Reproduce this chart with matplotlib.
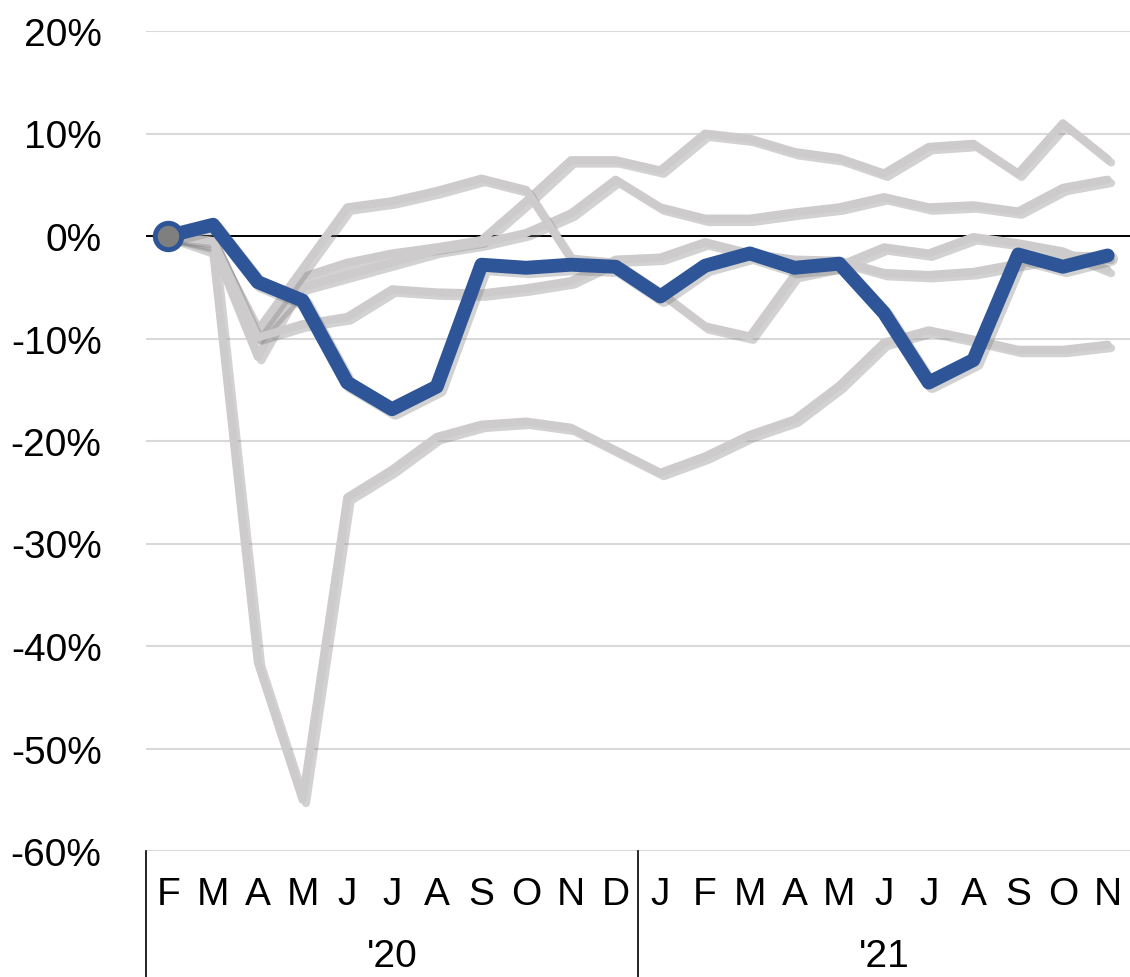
import matplotlib
matplotlib.use("Agg")
import matplotlib.pyplot as plt
import matplotlib.patheffects as pe

plt.rcParams['font.family'] = ['Liberation Sans', 'DejaVu Sans']

# months Feb 2020 .. Nov 2021
months = ['F', 'M', 'A', 'M', 'J', 'J', 'A', 'S', 'O', 'N', 'D',
          'J', 'F', 'M', 'A', 'M', 'J', 'J', 'A', 'S', 'O', 'N']
years = ["'20", "'21"]

# highlighted series (%)
blue = [0, 1.1, -4.5, -6.3, -14.3, -16.9, -14.7, -2.8, -3.1, -2.8, -3.0,
        -5.9, -2.9, -1.7, -3.1, -2.7, -7.5, -14.3, -12.1, -1.8, -3.0, -1.9]

# background series (%)
gray_dip = [0, -1.5, -41.6, -55.0, -25.5, -22.8, -19.6, -18.4, -18.1, -18.7, -20.9,
            -23.1, -21.5, -19.4, -17.9, -14.6, -10.4, -9.2, -10.1, -11.1, -11.1, -10.6]
gray_top = [0, -1.0, -11.8, -4.0, -2.6, -1.7, -1.1, -0.4, 3.4, 7.4, 7.4,
            6.4, 10.0, 9.5, 8.2, 7.6, 6.1, 8.7, 9.0, 6.1, 11.0, 7.5]
gray_second = [0, -0.5, -9.8, -5.0, -3.8, -2.6, -1.4, -0.7, 0.3, 2.2, 5.5,
               2.8, 1.7, 1.7, 2.3, 2.8, 3.8, 2.8, 3.0, 2.4, 4.7, 5.5]
gray_peak = [0, -0.8, -9.2, -3.2, 2.8, 3.4, 4.4, 5.6, 4.5, -2.2, -2.6,
             -5.5, -8.8, -9.8, -3.8, -2.9, -1.1, -1.7, -0.1, -0.7, -1.5, -3.3]
gray_flat = [0, -0.5, -9.9, -8.6, -7.9, -5.2, -5.5, -5.6, -5.1, -4.4, -2.3,
             -2.1, -0.6, -1.7, -2.3, -2.4, -3.6, -3.8, -3.5, -2.7, -1.9, -2.0]

grays = [gray_dip, gray_top, gray_second, gray_peak, gray_flat]
x = list(range(len(months)))

fig = plt.figure(figsize=(11.3, 9.78), dpi=100)
ax = fig.add_axes([146 / 1130, 1 - 852 / 978, 984 / 1130, 820 / 978])

shadow = [pe.SimpleLineShadow(offset=(2.5, -2.5), shadow_color='#808080', alpha=0.35),
          pe.Normal()]

for s in grays:
    ax.plot(x, s, color='#CDCBCB', lw=5.8, solid_joinstyle='round',
            solid_capstyle='round', path_effects=shadow, zorder=3)

ax.plot(x, blue, color='#2E5597', lw=10, solid_joinstyle='round',
        solid_capstyle='round', path_effects=shadow, zorder=4)
ax.plot(x[0], blue[0], 'o', ms=19, mfc='#7F7F7F', mec='#2E5597', mew=3.6, zorder=5)

ax.axhline(0, color='black', lw=1.4, zorder=2)

ax.set_xlim(-0.5, len(months) - 0.5)
ax.set_ylim(-60, 20)
ax.set_yticks(range(-60, 21, 10))
ax.set_yticklabels([f'{v}%' for v in range(-60, 21, 10)], fontsize=28)
ax.yaxis.grid(True, color='#D9D9D9', lw=1.5)
ax.set_axisbelow(True)
ax.tick_params(axis='y', length=0, pad=32)

ax.set_xticks(x)
ax.set_xticklabels(months, fontsize=28)
ax.tick_params(axis='x', length=0, pad=18)

for sp in ax.spines.values():
    sp.set_visible(False)

trans = ax.get_xaxis_transform()
bottom = -(978 - 852) / 820
for xv in [-0.5, 10.5]:
    ax.plot([xv, xv], [0, bottom], color='black', lw=1.2, transform=trans, clip_on=False)

ax.text(5, -0.128, years[0], transform=trans, ha='center', va='center', fontsize=28)
ax.text(16, -0.128, years[1], transform=trans, ha='center', va='center', fontsize=28)

fig.savefig('out.png', dpi=100)
